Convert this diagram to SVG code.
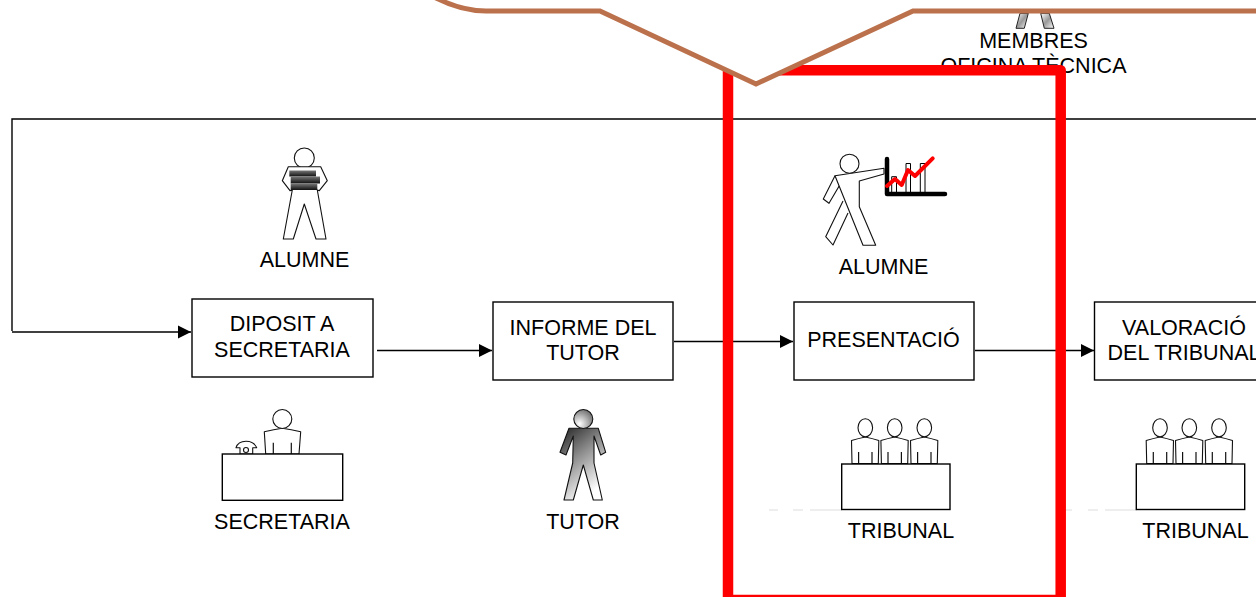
<svg xmlns="http://www.w3.org/2000/svg" width="1256" height="597" viewBox="0 0 1256 597">
<style>
text{font-family:"Liberation Sans",Arial,sans-serif;font-size:21.5px;fill:#000;text-anchor:middle}
.box{fill:#fff;stroke:#000;stroke-width:1.4}
.ln{fill:none;stroke:#111;stroke-width:1.2}
.fig{fill:#fff;stroke:#111;stroke-width:1.1;stroke-linejoin:round}
.conn{fill:none;stroke:#000;stroke-width:1.4}
.dash{fill:none;stroke:#ddd;stroke-width:1}
</style>
<defs>
<marker id="arr" markerUnits="userSpaceOnUse" markerWidth="14" markerHeight="14" refX="13" refY="7" orient="auto"><path d="M0 0.500L13 7L0 13.500Z" fill="#000"/></marker>
<linearGradient id="tg" x1="0" y1="0" x2="0.5" y2="1"><stop offset="0" stop-color="#222"/><stop offset="0.45" stop-color="#8a8a8a"/><stop offset="1" stop-color="#fff"/></linearGradient>
<radialGradient id="th" cx="0.3" cy="0.75" r="0.95"><stop offset="0" stop-color="#fff"/><stop offset="1" stop-color="#555"/></radialGradient>
<linearGradient id="hatch" x1="0" y1="0" x2="1" y2="1"><stop offset="0" stop-color="#fff"/><stop offset="0.5" stop-color="#999"/><stop offset="1" stop-color="#fff"/></linearGradient>
<linearGradient id="book" x1="0" y1="0" x2="0" y2="1"><stop offset="0" stop-color="#777"/><stop offset="1" stop-color="#111"/></linearGradient>
<g id="sitter">
<path class="fig" d="M-13.300 -0.500L-13.800 -23.500Q-7 -25.500 0 -27Q7 -25.500 13.500 -23.500L13 -0.500Z"/>
<ellipse cx="0" cy="-36.300" rx="7.300" ry="9" class="fig"/>
<path class="ln" d="M-6.700 0V-12M6.700 0V-12"/>
</g>
</defs>

<g id="connectors">
<path class="conn" d="M12 331V119H1256"/>
<path class="conn" d="M12 332H191" marker-end="url(#arr)"/>
<path class="conn" d="M377 350.500H492" marker-end="url(#arr)"/>
<path class="conn" d="M674 341.500H793" marker-end="url(#arr)"/>
<path class="conn" d="M975 350.500H1094" marker-end="url(#arr)"/>
</g>

<g id="membres">
<path d="M1020 13.300H1028.300L1024.300 28.300H1016Z" fill="url(#hatch)" stroke="#222" stroke-width="1"/>
<path d="M1040.700 13.300H1049.300L1054 28.300H1044.300Z" fill="url(#hatch)" stroke="#222" stroke-width="1"/>
<text x="1033.500" y="48">MEMBRES</text>
<text x="1033.500" y="73">OFICINA TÈCNICA</text>
</g>

<g id="n-diposit">
<rect class="box" x="192" y="299" width="181" height="78"/>
<text x="282" y="331">DIPOSIT A</text><text x="282" y="357">SECRETARIA</text>
</g>
<g id="n-informe">
<rect class="box" x="493" y="302" width="180" height="78"/>
<text x="583" y="335">INFORME DEL</text><text x="583" y="360">TUTOR</text>
</g>
<g id="n-presentacio">
<rect class="box" x="794" y="302" width="180" height="78"/>
<text x="883.500" y="347">PRESENTACIÓ</text>
</g>
<g id="n-valoracio">
<rect class="box" x="1094.500" y="302" width="180" height="78"/>
<text x="1184" y="335">VALORACIÓ</text><text x="1184" y="360">DEL TRIBUNAL</text>
</g>

<g id="alumne-1">
<circle class="fig" cx="304.300" cy="158" r="10"/>
<path class="fig" d="M288.300 166.700H320.700L327.300 180.700L319.300 190.700L317.300 190L326 239H316L304.300 204L293.300 239H283.300L292.300 190L290 190.700L282.300 180.700Z"/>
<rect x="289.300" y="170.500" width="26.700" height="6" fill="url(#book)"/>
<rect x="290.700" y="176.500" width="29.300" height="7" fill="url(#book)"/>
<rect x="290.700" y="183.500" width="26.600" height="6.500" fill="url(#book)"/>
<text x="304.500" y="267">ALUMNE</text>
</g>

<g id="alumne-2">
<path class="fig" d="M848 213L833 245L825.700 236.700L843 201"/>
<path class="fig" d="M835 175.700L823.300 199L829 203.300L839.300 185.700"/>
<path class="fig" d="M835 175.700L884 168.300V174L859.300 181V206.700L875.700 245.300H863Z"/>
<circle class="fig" cx="849.500" cy="163.700" r="9.500"/>
<path d="M891.700 194V176.700H896.500V194ZM906 194V163.500H910.500V194ZM920.300 194V163.500H925V194Z" fill="#fff" stroke="#000" stroke-width="1"/>
<path d="M887 159V194H945" fill="none" stroke="#000" stroke-width="4.500" stroke-linecap="round" stroke-linejoin="round"/>
<path d="M887 186L895 179L901.700 185L908 170L915 176L932.700 158.300" fill="none" stroke="#f00" stroke-width="4" stroke-linecap="round" stroke-linejoin="round"/>
<text x="883.500" y="274">ALUMNE</text>
</g>

<g id="secretaria">
<path class="fig" d="M265.700 454L264.300 431.700Q274 429.500 282.300 428.300Q291 429.500 300.700 431.700L299 454Z"/>
<circle class="fig" cx="282.300" cy="419" r="9.500"/>
<path class="ln" d="M273.300 454V442.700M291.300 454V442.700"/>
<path class="fig" d="M240 454V447.700H236Q238 441.300 246 441.300Q254 441.300 256.700 447.700H252.700V454Z"/>
<circle class="fig" cx="246" cy="450" r="2.500"/>
<rect class="box" x="222.300" y="454" width="120.400" height="46.300" stroke-width="1.200"/>
<text x="282" y="529">SECRETARIA</text>
</g>

<g id="tutor">
<path d="M569 428.300H598.300L605.700 452.300L600.700 455L594 436V463L602.300 500H593.300L583.300 465L573.300 500H564L572.700 463L573.300 436L566 455L560 452.300Z" fill="url(#tg)" stroke="#111" stroke-width="1.100" stroke-linejoin="round"/>
<circle cx="583.300" cy="419" r="9.500" fill="url(#th)" stroke="#111" stroke-width="1.100"/>
<text x="583" y="529">TUTOR</text>
</g>

<g id="tribunal-1">
<use href="#sitter" x="865.300" y="464"/><use href="#sitter" x="894.700" y="464"/><use href="#sitter" x="924.300" y="464"/>
<path class="dash" d="M769 510H778M793 510H803M810 510H842"/>
<rect class="box" x="841.700" y="464" width="108.300" height="45.500"/>
<text x="901" y="538">TRIBUNAL</text>
</g>

<g id="tribunal-2">
<use href="#sitter" x="1160" y="464"/><use href="#sitter" x="1189.300" y="464"/><use href="#sitter" x="1219" y="464"/>
<path class="dash" d="M1066 510H1072M1088 510H1098M1105 510H1137"/>
<rect class="box" x="1136.300" y="464" width="108.400" height="45.500"/>
<text x="1195.500" y="538">TRIBUNAL</text>
</g>

<g id="red-frame">
<path d="M728 600V70.300H1060.700V600" fill="none" stroke="#f00" stroke-width="10.500" stroke-linejoin="round"/>
<path d="M728 596H1061" fill="none" stroke="#f00" stroke-width="2.500"/>
</g>
<path id="callout" d="M436 -2Q462 11 486 11H600L756 84L913 11H1262V-12H430Z" fill="#fff" stroke="#bc714d" stroke-width="5"/>
</svg>
